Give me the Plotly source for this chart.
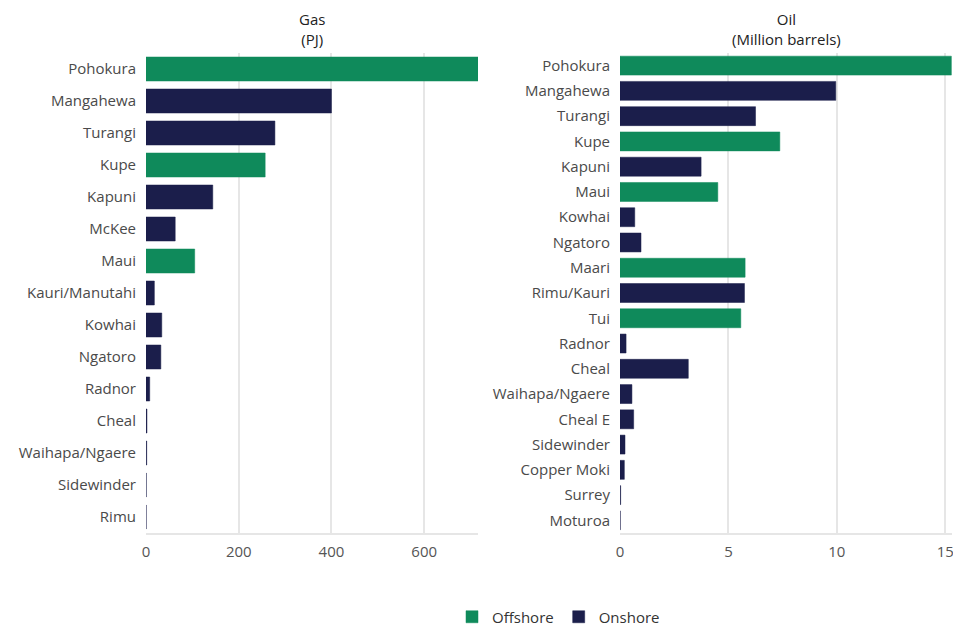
import plotly.graph_objects as go

gas_fields = ["Pohokura", "Mangahewa", "Turangi", "Kupe", "Kapuni", "McKee", "Maui",
              "Kauri/Manutahi", "Kowhai", "Ngatoro", "Radnor", "Cheal", "Waihapa/Ngaere",
              "Sidewinder", "Rimu"]
gas_values = [716, 400, 278, 257, 144, 63, 105, 18, 34, 32, 8, 2, 1.5, 0.4, 0.3]
gas_type = ["Offshore", "Onshore", "Onshore", "Offshore", "Onshore", "Onshore", "Offshore",
            "Onshore", "Onshore", "Onshore", "Onshore", "Onshore", "Onshore", "Onshore", "Onshore"]

oil_fields = ["Pohokura", "Mangahewa", "Turangi", "Kupe", "Kapuni", "Maui", "Kowhai", "Ngatoro",
              "Maari", "Rimu/Kauri", "Tui", "Radnor", "Cheal", "Waihapa/Ngaere", "Cheal E",
              "Sidewinder", "Copper Moki", "Surrey", "Moturoa"]
oil_values = [15.28, 9.95, 6.25, 7.37, 3.74, 4.51, 0.68, 0.97, 5.77, 5.74, 5.57, 0.28, 3.15,
              0.55, 0.63, 0.23, 0.2, 0.03, 0.01]
oil_type = ["Offshore", "Onshore", "Onshore", "Offshore", "Onshore", "Offshore", "Onshore", "Onshore",
            "Offshore", "Onshore", "Offshore", "Onshore", "Onshore", "Onshore", "Onshore",
            "Onshore", "Onshore", "Onshore", "Onshore"]

gas_ticks = [0, 200, 400, 600]
oil_ticks = [0, 5, 10, 15]

colors = {"Offshore": "#0f8a5b", "Onshore": "#1b1e4b"}
FONT = "Open Sans"
FS = 15

fig = go.Figure()

for t in ["Offshore", "Onshore"]:
    xs = [v for v, k in zip(gas_values, gas_type) if k == t]
    ys = [f for f, k in zip(gas_fields, gas_type) if k == t]
    fig.add_trace(go.Bar(x=xs, y=ys, orientation="h", name=t, legendgroup=t,
                         marker=dict(color=colors[t], line=dict(color=colors[t], width=0.5)),
                         xaxis="x", yaxis="y", showlegend=True))
for t in ["Offshore", "Onshore"]:
    xs = [v for v, k in zip(oil_values, oil_type) if k == t]
    ys = [f for f, k in zip(oil_fields, oil_type) if k == t]
    fig.add_trace(go.Bar(x=xs, y=ys, orientation="h", name=t, legendgroup=t,
                         marker=dict(color=colors[t], line=dict(color=colors[t], width=0.5)),
                         xaxis="x2", yaxis="y2", showlegend=False))

axis_common = dict(showgrid=True, gridcolor="#e6e6e6", gridwidth=1.5, zeroline=False,
                   showline=True, linecolor="#e6e6e6", linewidth=1.5,
                   tickfont=dict(family=FONT, size=FS, color="#555555"),
                   ticklabeloverflow="allow",
                   ticks="outside", ticklen=4, tickcolor="rgba(0,0,0,0)", automargin=False)
yaxis_common = dict(showgrid=False, zeroline=False, showline=False, autorange="reversed",
                    type="category", ticks="outside", ticklen=6, tickcolor="rgba(0,0,0,0)",
                    tickfont=dict(family=FONT, size=FS, color="#4a4a4a"), automargin=False)

fig.update_layout(
    width=953, height=628,
    margin=dict(l=0, r=0, t=53, b=95, autoexpand=False),
    paper_bgcolor="white", plot_bgcolor="white",
    barmode="overlay", bargap=0.25,
    font=dict(family=FONT, color="#333333"),
    xaxis=dict(domain=[146 / 953, 478 / 953], range=[0, 716], tickvals=gas_ticks, anchor="y", **axis_common),
    yaxis=dict(domain=[0, 1], categoryarray=gas_fields, categoryorder="array", anchor="x", **yaxis_common),
    xaxis2=dict(domain=[620 / 953, 952 / 953], range=[0, 15.31], tickvals=oil_ticks, anchor="y2", **axis_common),
    yaxis2=dict(domain=[0, 1], categoryarray=oil_fields, categoryorder="array", anchor="x2", **yaxis_common),
    legend=dict(orientation="h", xref="container", yref="container",
                x=452 / 953, xanchor="left", y=1 - 617 / 628, yanchor="middle",
                font=dict(family=FONT, size=FS, color="#333333"), itemwidth=30,
                traceorder="normal"),
    annotations=[
        dict(text="Gas<br>(PJ)", x=(146 + 478) / 2 / 953, y=1.0, xref="paper", yref="paper",
             xanchor="center", yanchor="bottom", showarrow=False, yshift=2,
             font=dict(family=FONT, size=FS, color="#222222")),
        dict(text="Oil<br>(Million barrels)", x=(620 + 952) / 2 / 953, y=1.0, xref="paper", yref="paper",
             xanchor="center", yanchor="bottom", showarrow=False, yshift=2,
             font=dict(family=FONT, size=FS, color="#222222")),
    ],
)

fig.write_html("out.html")
